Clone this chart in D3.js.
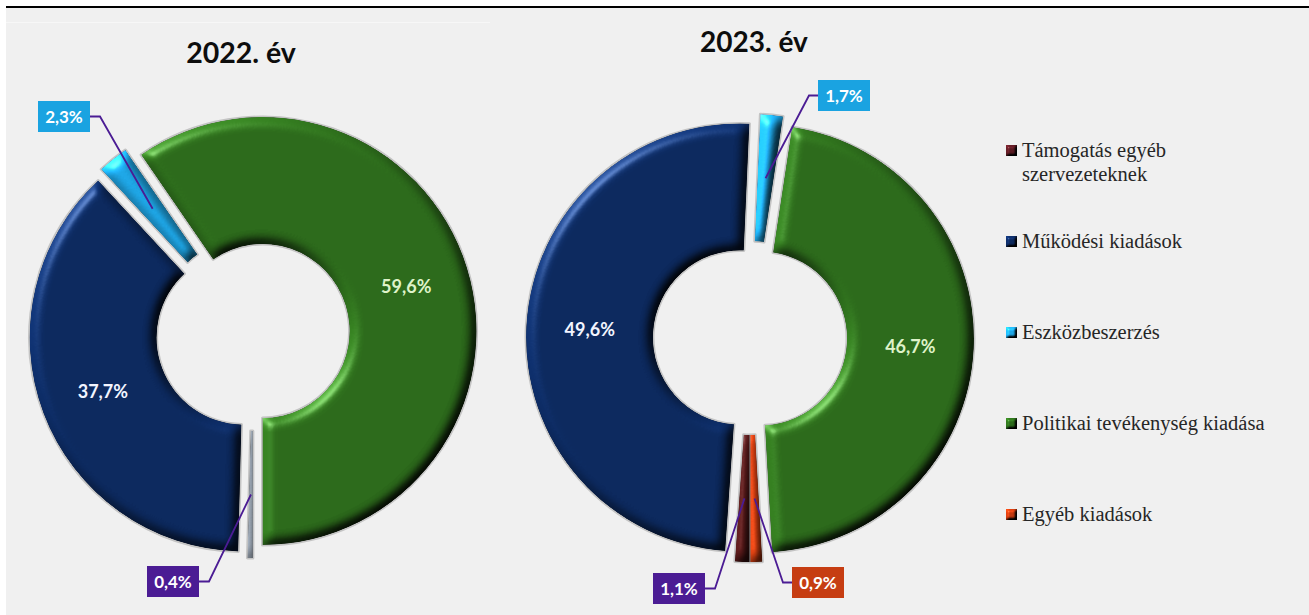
<!DOCTYPE html>
<html>
<head>
<meta charset="utf-8">
<script src="https://cdn.jsdelivr.net/npm/d3@7"></script>
<style>
html, body { margin: 0; padding: 0; background: #ffffff; }
svg { display: block; }
.legend text { font-family: "Liberation Serif", "DejaVu Serif", "Times New Roman", serif; }
.sans { font-family: Lato, "Open Sans", sans-serif; font-weight: 700; }
</style>
</head>
<body>
<svg id="chart" width="1309" height="615"></svg>
<script>
// ---------------- DATA ----------------
const categories = [
  "Támogatás egyéb szervezeteknek",
  "Működési kiadások",
  "Eszközbeszerzés",
  "Politikai tevékenység kiadása",
  "Egyéb kiadások"
];
const legendLabels = [
  "Támogatás egyéb\nszervezeteknek",
  "Működési kiadások",
  "Eszközbeszerzés",
  "Politikai tevékenység kiadása",
  "Egyéb kiadások"
];
const years = ["2022. év", "2023. év"];
const values2022 = [0.4, 37.7, 2.3, 59.6, 0];
const values2023 = [1.1, 49.6, 1.7, 46.7, 0.9];

// ---------------- STYLE ----------------
const colors2022 = ["#8e98a4", "#0c295e", "#1ea6e6", "#2c6a1b", "#c3390f"];
const colors2023 = ["#4d1616", "#0c295e", "#1ea6e6", "#2c6a1b", "#c3390f"];
const legendColors = ["#5a1a22", "#0c295e", "#1ea6e6", "#2c6a1b", "#c3390f"];
const boxColors = ["#4b1c94", null, "#1aa3e1", null, "#c63d12"];
const innerTextColors = [null, "#f2f5ff", null, "#dff3c9", null];
const leaderColor = "#4b1c94";

const W = 1309, H = 615;
const R = 214, r0 = 87, explode = 10;

const charts = [
  { title: years[0], values: values2022, colors: colors2022, cx: 253, cy: 334,
    tx: 241, ty: 63, tsize: 28.5,
    boxes: { 0: { x: 147, y: 566, side: "right" }, 2: { x: 38, y: 101, side: "right" } } },
  { title: years[1], values: values2023, colors: colors2023, cx: 750, cy: 338,
    tx: 754, ty: 52, tsize: 28,
    boxes: { 0: { x: 653, y: 573, side: "right" }, 2: { x: 818, y: 80, side: "left" }, 4: { x: 792, y: 567, side: "left" } } }
];
const boxW = 52, boxH = 31;

const fmt = v => d3.format(".1f")(v).replace(".", ",") + "%";

// ---------------- SVG ----------------
const svg = d3.select("#chart");
const defs = svg.append("defs");

function makeBevel(id, blur, scale, spec) {
  const f = defs.append("filter").attr("id", id)
    .attr("x", "-20%").attr("y", "-20%").attr("width", "140%").attr("height", "140%")
    .attr("color-interpolation-filters", "sRGB");
  f.append("feGaussianBlur").attr("in", "SourceAlpha").attr("stdDeviation", blur).attr("result", "b");
  const dl = f.append("feDiffuseLighting").attr("in", "b").attr("surfaceScale", scale)
    .attr("diffuseConstant", 1).attr("lighting-color", "#ffffff").attr("result", "d");
  dl.append("feDistantLight").attr("azimuth", 225).attr("elevation", 45);
  f.append("feComposite").attr("in", "d").attr("in2", "SourceGraphic").attr("operator", "arithmetic")
    .attr("k1", 1.414).attr("k2", 0).attr("k3", 0).attr("k4", 0).attr("result", "lit");
  const sl = f.append("feSpecularLighting").attr("in", "b").attr("surfaceScale", scale)
    .attr("specularConstant", spec).attr("specularExponent", 40).attr("lighting-color", "#ffffff").attr("result", "s");
  sl.append("feDistantLight").attr("azimuth", 225).attr("elevation", 35);
  f.append("feComposite").attr("in", "s").attr("in2", "lit").attr("operator", "arithmetic")
    .attr("k1", 0).attr("k2", 1).attr("k3", 1).attr("k4", 0).attr("result", "sum");
  f.append("feComposite").attr("in", "sum").attr("in2", "SourceAlpha").attr("operator", "in");
}
makeBevel("bevel", 6, 6, 0.3);
makeBevel("bevelSmall", 1.5, 3, 0.2);

// background
svg.append("rect").attr("width", W).attr("height", H).attr("fill", "#ffffff");
svg.append("rect").attr("x", 6).attr("y", 7).attr("width", W - 6).attr("height", H - 7).attr("fill", "#f0f0f0");
svg.append("line").attr("x1", 6).attr("x2", 490).attr("y1", 22.5).attr("y2", 22.5)
  .attr("stroke", "#f7f7f7").attr("stroke-width", 1);
svg.append("line").attr("x1", 6).attr("x2", W).attr("y1", 7).attr("y2", 7)
  .attr("stroke", "#000000").attr("stroke-width", 2);

const pie = d3.pie().sort(null).value(d => d).startAngle(Math.PI).endAngle(3 * Math.PI);
const arc = d3.arc().innerRadius(r0).outerRadius(R);

charts.forEach(ch => {
  const arcs = pie(ch.values).map((a, i) => Object.assign(a, { idx: i }))
    .filter(a => a.value > 0);
  const g = svg.append("g");

  // title
  svg.append("text").attr("class", "sans").attr("x", ch.tx).attr("y", ch.ty).attr("text-anchor", "middle")
    .attr("font-size", ch.tsize).attr("fill", "#0d0d0d").text(ch.title);

  const off = a => {
    const m = (a.startAngle + a.endAngle) / 2;
    return [explode * Math.sin(m), -explode * Math.cos(m)];
  };

  // outlines
  g.selectAll("path.outline").data(arcs).join("path").attr("class", "outline")
    .attr("transform", a => { const o = off(a); return `translate(${ch.cx + o[0]},${ch.cy + o[1]})`; })
    .attr("d", arc).attr("fill", "none").attr("stroke", "#c4c4c4").attr("stroke-width", 3)
    .attr("stroke-linejoin", "round");
  // slices
  g.selectAll("path.slice").data(arcs).join("path").attr("class", "slice")
    .attr("transform", a => { const o = off(a); return `translate(${ch.cx + o[0]},${ch.cy + o[1]})`; })
    .attr("d", arc).attr("fill", a => ch.colors[a.idx]).attr("filter", "url(#bevel)");

  // inner labels
  arcs.filter(a => !ch.boxes[a.idx]).forEach(a => {
    const o = off(a), c = arc.centroid(a);
    svg.append("text").attr("class", "sans").attr("x", ch.cx + o[0] + c[0]).attr("y", ch.cy + o[1] + c[1])
      .attr("text-anchor", "middle").attr("dominant-baseline", "central")
      .attr("font-size", 18).attr("fill", innerTextColors[a.idx] || "#fff").text(fmt(a.value));
  });

  // boxed labels with leader lines
  arcs.filter(a => ch.boxes[a.idx]).forEach(a => {
    const b = ch.boxes[a.idx];
    const o = off(a), c = arc.centroid(a);
    const px = ch.cx + o[0] + c[0], py = ch.cy + o[1] + c[1];
    const sx = b.side === "right" ? b.x + boxW : b.x;
    const sy = b.y + boxH / 2;
    const kx = b.side === "right" ? sx + 10 : sx - 9;
    svg.append("polyline").attr("points", `${sx},${sy} ${kx},${sy} ${px},${py}`)
      .attr("fill", "none").attr("stroke", leaderColor).attr("stroke-width", 1.8);
    svg.append("rect").attr("x", b.x).attr("y", b.y).attr("width", boxW).attr("height", boxH)
      .attr("fill", boxColors[a.idx]);
    svg.append("text").attr("class", "sans").attr("x", b.x + boxW / 2).attr("y", b.y + boxH / 2)
      .attr("text-anchor", "middle").attr("dominant-baseline", "central")
      .attr("font-size", 17).attr("fill", "#ffffff").text(fmt(a.value));
  });
});

// legend
const ly = d3.scalePoint().domain(categories).range([157, 521]);
const lg = svg.append("g").attr("class", "legend");
categories.forEach((c, i) => {
  const y = ly(c);
  lg.append("rect").attr("x", 1006).attr("y", y - 12).attr("width", 11).attr("height", 11)
    .attr("fill", legendColors[i]).attr("filter", "url(#bevelSmall)");
  const t = lg.append("text").attr("x", 1022).attr("y", y)
    .attr("font-size", 20.5).attr("fill", "#262626");
  legendLabels[i].split("\n").forEach((line, k) => {
    t.append("tspan").attr("x", 1022).attr("dy", k === 0 ? 0 : 24).text(line);
  });
});
</script>
</body>
</html>
